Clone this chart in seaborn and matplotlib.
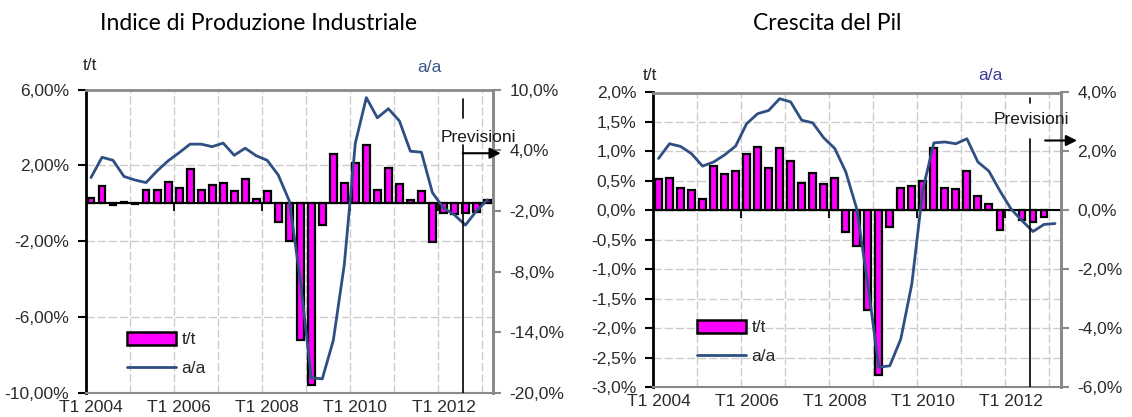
import numpy as np
import pandas as pd
import matplotlib
matplotlib.use("Agg")
import matplotlib.pyplot as plt
import matplotlib.transforms as mtransforms
from matplotlib.patches import Patch
from matplotlib.lines import Line2D
from matplotlib.ticker import FuncFormatter
import seaborn as sns

# trimestri T1 2004 .. T1 2013
quarters = [f"T{q} {y}" for y in range(2004, 2014) for q in range(1, 5)][:37]
xlabels = ["T1 2004", "T1 2006", "T1 2008", "T1 2010", "T1 2012"]

# Indice di Produzione Industriale
ipi_tt = [0.3, 0.9, -0.1, 0.05, -0.05, 0.7, 0.7, 1.1, 0.8, 1.8, 0.7, 0.95, 1.05,
          0.65, 1.3, 0.25, 0.65, -1.0, -2.0, -7.2, -9.6, -1.15, 2.6, 1.05, 2.1,
          3.05, 0.7, 1.85, 1.0, 0.2, 0.65, -2.05, -0.5, -0.55, -0.5, -0.45, 0.2]
ipi_aa = [1.3, 3.3, 3.0, 1.4, 1.05, 0.8, 1.95, 2.95, 3.75, 4.6, 4.6, 4.35, 4.7,
          3.5, 4.2, 3.45, 3.0, 1.55, -1.0, -8.8, -18.5, -18.6, -14.8, -7.3, 4.7,
          9.2, 7.2, 8.1, 6.9, 3.9, 3.8, -0.2, -1.7, -2.4, -3.4, -2.0, -0.9]

# Crescita del Pil
pil_tt = [0.53, 0.55, 0.38, 0.34, 0.2, 0.75, 0.62, 0.66, 0.95, 1.08, 0.71, 1.06,
          0.83, 0.47, 0.64, 0.45, 0.54, -0.36, -0.6, -1.7, -2.8, -0.28, 0.38, 0.41,
          0.5, 1.05, 0.38, 0.36, 0.67, 0.24, 0.1, -0.34, 0.0, -0.17, -0.2, -0.11,
          np.nan]
pil_aa = [1.76, 2.26, 2.17, 1.92, 1.5, 1.64, 1.88, 2.18, 2.94, 3.28, 3.39, 3.79,
          3.68, 3.06, 2.97, 2.46, 2.1, 1.31, 0.05, -2.5, -5.33, -5.28, -4.37, -2.5,
          0.7, 2.29, 2.32, 2.26, 2.43, 1.64, 1.33, 0.66, 0.05, -0.35, -0.72, -0.48,
          -0.45]

sns.set_theme(style="white")
plt.rcParams["font.family"] = ["Liberation Sans", "DejaVu Sans"]

BAR = "#ff00ff"
LINE = "#2f4f82"
GRID = "#cccccc"
GRAY = "#8a8a8a"
TXT = "#2b2b2b"
FS = 12.5

fig = plt.figure(figsize=(11.32, 4.17), dpi=100)
W, H = 1132, 417


def fmt(dec):
    return FuncFormatter(lambda v, p: f"{v:.{dec}f}%".replace(".", ","))


def panel(rect, tt, aa, llim, lstep, ldec, rlim, rstep, vgap, text_x, text_y,
          arrow, leg_xy):
    ax = fig.add_axes([rect[0] / W, 1 - rect[3] / H, (rect[2] - rect[0]) / W,
                       (rect[3] - rect[1]) / H])
    df = pd.DataFrame({"trimestre": quarters, "tt": tt, "aa": aa})
    sns.barplot(data=df, x="trimestre", y="tt", order=quarters, color=BAR,
                saturation=1, edgecolor="black", linewidth=1.6, width=0.62,
                ax=ax, zorder=3)
    n = len(quarters)
    ax.set_xlim(-0.5, n - 0.5)
    ax.set_ylim(*llim)
    ax.set_yticks(np.arange(llim[0], llim[1] + 1e-9, lstep))
    ax.yaxis.set_major_formatter(fmt(ldec))
    ax.set_xticks([quarters.index(l) for l in xlabels])
    ax.set_xticklabels(xlabels)
    ax.set_xticks(np.arange(3.5, n, 4), minor=True)
    ax.set_axisbelow(True)
    ax.grid(which="minor", axis="x", color=GRID, ls=(0, (6, 2)), lw=1)
    ax.grid(which="major", axis="y", color=GRID, ls=(0, (6, 2)), lw=1)
    ax.grid(which="major", axis="x", visible=False)
    ax.set_xlabel("")
    ax.set_ylabel("")
    ax.tick_params(axis="x", which="both", length=0, pad=5, labelsize=FS,
                   labelcolor=TXT)
    ax.tick_params(axis="y", left=True, direction="out", length=6, width=1.5,
                   color="black", pad=6, labelsize=FS, labelcolor=TXT)
    ax.axhline(0, color="black", lw=1.5, zorder=4)
    ax.plot(np.arange(7.5, n, 8), np.zeros(len(np.arange(7.5, n, 8))), ls="none",
            marker=3, ms=6, mew=1.3, color="black", zorder=4)
    for s in ["top", "right"]:
        ax.spines[s].set_color(GRAY)
        ax.spines[s].set_linewidth(2)
    ax.spines["bottom"].set_color(GRAY)
    ax.spines["bottom"].set_linewidth(1.5)
    ax.spines["left"].set_color("black")
    ax.spines["left"].set_linewidth(2)

    ax2 = ax.twinx()
    sns.lineplot(x=np.arange(n), y=df["aa"].values, color=LINE, linewidth=2,
                 ax=ax2, legend=False)
    ax2.set_ylim(*rlim)
    ax2.set_yticks(np.arange(rlim[0], rlim[1] + 1e-9, rstep))
    ax2.yaxis.set_major_formatter(fmt(1))
    ax2.set_ylabel("")
    ax2.tick_params(axis="y", right=True, direction="out", length=6, width=1.5,
                    color=GRAY, pad=6, labelsize=FS, labelcolor=TXT)
    for s in ["top", "left", "bottom"]:
        ax2.spines[s].set_visible(False)
    ax2.spines["right"].set_color(GRAY)
    ax2.spines["right"].set_linewidth(2)

    blend = mtransforms.blended_transform_factory(ax2.transData, ax2.transAxes)
    ax2.plot([33.75, 33.75], [0, vgap[0]], transform=blend, color="black", lw=1.2)
    ax2.plot([33.75, 33.75], [vgap[1], vgap[2]], transform=blend, color="black",
             lw=1.2)
    ax2.text(text_x, text_y, "Previsioni", transform=blend, ha="left",
             va="center", fontsize=FS, color="#1a1a1a")
    ax2.annotate("", xy=(arrow[1], arrow[2]), xytext=(arrow[0], arrow[2]),
                 xycoords=blend, textcoords=blend, annotation_clip=False,
                 arrowprops=dict(arrowstyle="-|>", color="black", lw=1.5,
                                 mutation_scale=16, shrinkA=0, shrinkB=0))

    handles = [Patch(facecolor=BAR, edgecolor="black", linewidth=1.8),
               Line2D([0], [0], color=LINE, lw=2)]
    fig.legend(handles, ["t/t", "a/a"], loc="upper left",
               bbox_to_anchor=(leg_xy[0] / W, 1 - leg_xy[1] / H),
               frameon=False, fontsize=FS, handlelength=2.8, handleheight=0.75,
               handletextpad=0.35, labelspacing=0.75, borderpad=0,
               borderaxespad=0)
    return ax, ax2


panel((85.5, 89.5, 493, 393), ipi_tt, ipi_aa, (-10, 6), 4, 2, (-20, 10), 6,
      (0.816, 0.905, 0.970), 31.7, 0.842, (33.75, 37.2, 0.79), (127, 332))
panel((653, 92.5, 1060.5, 387), pil_tt, pil_aa, (-3, 2), 0.5, 1, (-6, 4), 2,
      (0.843, 0.966, 0.983), 30.4, 0.907, (35.1, 38.0, 0.837), (697, 320))

fig.text(259 / W, 1 - 24 / H, "Indice di Produzione Industriale", ha="center",
         va="center", fontsize=16.5, family="Lato", color="black")
fig.text(827 / W, 1 - 24 / H, "Crescita del Pil", ha="center", va="center",
         fontsize=16.5, family="Lato", color="black")
fig.text(83 / W, 1 - 65 / H, "t/t", ha="left", va="center", fontsize=FS, color=TXT)
fig.text(417 / W, 1 - 67 / H, "a/a", ha="left", va="center", fontsize=FS,
         color="#3a5a8c")
fig.text(643 / W, 1 - 76 / H, "t/t", ha="left", va="center", fontsize=FS, color=TXT)
fig.text(978 / W, 1 - 76 / H, "a/a", ha="left", va="center", fontsize=FS,
         color="#3c3c96")

fig.savefig("out.png", dpi=100, facecolor="white")
